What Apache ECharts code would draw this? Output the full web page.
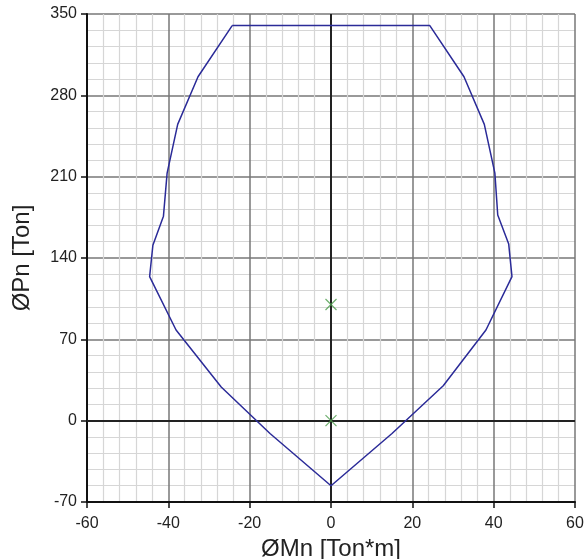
<!DOCTYPE html>
<html>
<head>
<meta charset="utf-8">
<script src="https://cdn.jsdelivr.net/npm/echarts@6/dist/echarts.min.js"></script>
<style>
  html, body { margin: 0; padding: 0; background: #fff; }
  #chart { width: 585px; height: 559px; }
</style>
</head>
<body>
<div id="chart"></div>
<script>
// Interaction diagram: design moment (x) vs design axial load (y)
const momentValues = [-24.3, 24.3, 32.7, 37.7, 40.3, 41.0, 43.7, 44.5, 38.1, 27.6, 15.0, 0, -15.0, -27.0, -38.1, -44.6, -43.8, -41.2, -40.3, -37.7, -32.7, -24.3];
const axialValues  = [340, 340, 296, 255, 213, 177, 152, 124, 78, 30, -11, -56, -11, 29, 78, 124, 151, 176, 213, 255, 296, 340];

// Load cases checked against the diagram
const loadMoment = [0, 0];
const loadAxial  = [100, 0];

const curve = momentValues.map((m, i) => [m, axialValues[i]]);
const loads = loadMoment.map((m, i) => [m, loadAxial[i]]);

const chart = echarts.init(document.getElementById('chart'), null, { renderer: 'canvas' });

const labelFont = { fontFamily: 'Liberation Sans, Arial, sans-serif', fontSize: 16, color: '#222' };
const nameFont = { fontFamily: 'Liberation Sans, Arial, sans-serif', fontSize: 24, color: '#222' };

chart.setOption({
  animation: false,
  backgroundColor: '#fff',
  grid: { left: 87, right: 10, top: 14, bottom: 57, outerBoundsMode: 'none', containLabel: false },
  xAxis: {
    type: 'value',
    min: -60, max: 60, interval: 20,
    name: 'ØMn [Ton*m]',
    nameLocation: 'middle',
    nameGap: 30,
    nameTextStyle: nameFont,
    axisLine: { show: true, onZero: false, lineStyle: { color: '#111', width: 2 } },
    axisTick: { show: true, length: 6, lineStyle: { color: '#111', width: 1.5 } },
    axisLabel: Object.assign({ margin: 14 }, labelFont),
    splitLine: { show: true, lineStyle: { color: '#777', width: 1.5 } },
    minorTick: { show: false, splitNumber: 5 },
    minorSplitLine: { show: true, lineStyle: { color: '#d6d6d6', width: 1.2 } }
  },
  yAxis: {
    type: 'value',
    min: -70, max: 350, interval: 70,
    name: 'ØPn [Ton]',
    nameLocation: 'middle',
    nameGap: 53,
    nameRotate: 90,
    nameTextStyle: nameFont,
    axisLine: { show: true, onZero: false, lineStyle: { color: '#111', width: 2 } },
    axisTick: { show: true, length: 6, lineStyle: { color: '#111', width: 1.5 } },
    axisLabel: Object.assign({ margin: 10 }, labelFont),
    splitLine: { show: true, lineStyle: { color: '#777', width: 1.5 } },
    minorTick: { show: false, splitNumber: 5 },
    minorSplitLine: { show: true, lineStyle: { color: '#d6d6d6', width: 1.2 } }
  },
  series: [
    {
      type: 'line',
      data: [],
      silent: true,
      markLine: {
        silent: true,
        symbol: 'none',
        label: { show: false },
        lineStyle: { color: '#222', width: 2, type: 'solid' },
        data: [{ xAxis: 0 }, { yAxis: 0 }]
      }
    },
    {
      type: 'line',
      data: curve,
      showSymbol: false,
      symbol: 'none',
      lineStyle: { color: '#2b2b98', width: 1.5 },
      z: 5
    },
    {
      type: 'scatter',
      data: loads,
      symbol: 'path://M0,0L10,10M10,0L0,10',
      symbolSize: 11,
      itemStyle: { color: 'none', borderColor: '#4b9b4b', borderWidth: 1.2 },
      z: 6
    }
  ]
});
</script>
</body>
</html>
